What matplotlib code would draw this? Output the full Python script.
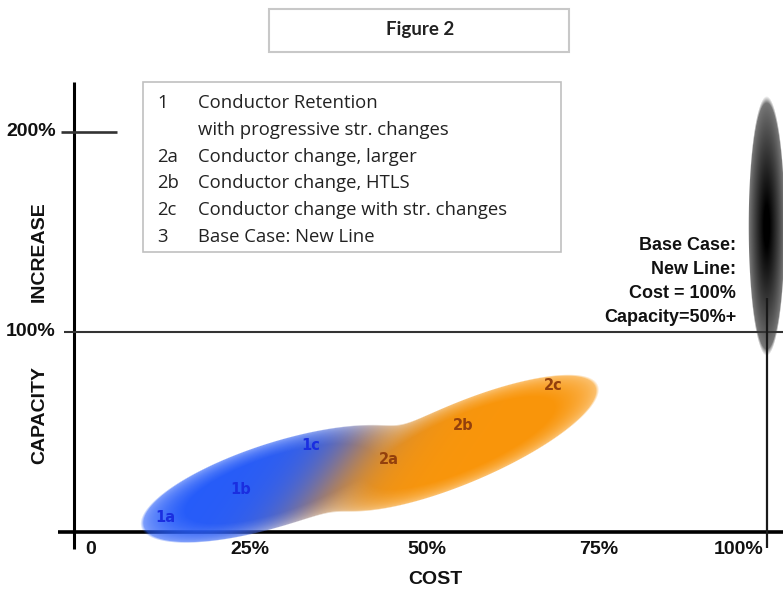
import numpy as np
import matplotlib
matplotlib.use("Agg")
import matplotlib.pyplot as plt
from matplotlib.patches import Rectangle

# cost / capacity figures (percent)
cost_ticks = [0, 25, 50, 75, 100]
cost_tick_labels = ["0", "25%", "50%", "75%", "100%"]
cap_ticks = [100, 200]
cap_tick_labels = ["100%", "200%"]

option_codes = ["1a", "1b", "1c", "2a", "2b", "2c"]
option_group = [0, 0, 0, 1, 1, 1]
option_cost = [13.2, 24.1, 34.2, 45.5, 56.2, 69.2]
option_capacity = [7.5, 21.5, 43.0, 36.0, 53.0, 73.5]

# extent of each option family along its cost/capacity trend
group_cost_low = [9.7, 36.5]
group_cost_high = [49.3, 75.7]
group_cap_low = [2.2, 15.5]
group_cap_high = [46.0, 73.5]

base_cost = 100
base_cap_low = 88
base_cap_high = 218
base_text = ["Base Case:", "New Line:", "Cost = 100%", "Capacity=50%+"]

legend_codes = ["1", "", "2a", "2b", "2c", "3"]
legend_text = ["Conductor Retention", "with progressive str. changes",
               "Conductor change, larger", "Conductor change, HTLS",
               "Conductor change with str. changes", "Base Case: New Line"]

W, H = 783, 594
fig = plt.figure(figsize=(W / 100, H / 100), dpi=100)
ax = fig.add_axes([0, 0, 1, 1])
xlim = (-10.635, 102.35)
ylim = (-31.0, 266.0)
ax.set_xlim(*xlim)
ax.set_ylim(*ylim)
ax.axis("off")

bold_sans = ["Liberation Sans", "DejaVu Sans"]
body = ["Open Sans", "DejaVu Sans"]

# pixel grid (display coords) for the shaded blobs
px = np.arange(W) + 0.5
py = H - (np.arange(H) + 0.5)
PX, PY = np.meshgrid(px, py)


def ellipse_radius(p0, p1, half_w):
    c = (p0 + p1) / 2
    d = (p1 - p0) / np.linalg.norm(p1 - p0)
    n = np.array([-d[1], d[0]])
    a = np.linalg.norm(p1 - p0) / 2
    dx, dy = PX - c[0], PY - c[1]
    u = (dx * d[0] + dy * d[1]) / a
    v = (dx * n[0] + dy * n[1]) / half_w
    return np.sqrt(u ** 2 + v ** 2)


T = ax.transData
blue = np.array([38, 92, 250]) / 255
orange = np.array([250, 150, 10]) / 255

radii = []
for g, hw in zip(range(2), [42, 40]):
    p0 = T.transform((group_cost_low[g], group_cap_low[g]))
    p1 = T.transform((group_cost_high[g], group_cap_high[g]))
    radii.append(ellipse_radius(p0, p1, hw))

# smooth union of the two families so the waist fills in
k = 0.10
r = -k * np.log(np.exp(-radii[0] / k) + np.exp(-radii[1] / k))
edge = np.clip((1 - r) * 40, 0, 1)
alpha = np.clip(0.48 + 0.75 * np.clip(1 - r ** 2, 0, 1) ** 0.6, 0, 1) * edge

# blend blue -> orange between the last option of group 1 and the first of group 2,
# along a direction tipped downwards so the seam leans forward
pts = T.transform(np.column_stack([option_cost, option_capacity]))
mid = (pts[2] + pts[3]) / 2
ang = np.deg2rad(-35)
proj = (PX - mid[0]) * np.cos(ang) + (PY - mid[1]) * np.sin(ang)
t = 1 / (1 + np.exp(-proj / 18.0))
rgba = np.zeros((H, W, 4))
for i in range(3):
    rgba[..., i] = (1 - t) * blue[i] + t * orange[i]
rgba[..., 3] = alpha
ax.imshow(rgba, extent=(*xlim, *ylim), origin="upper", aspect="auto",
          interpolation="nearest", zorder=3)

# base case (new line) blob
b0 = T.transform((base_cost, base_cap_low))
b1 = T.transform((base_cost, base_cap_high))
rb = ellipse_radius(b0, b1, 18.5)
base = np.zeros((H, W, 4))
base[..., 3] = np.where(rb < 1, np.clip(0.48 + 0.6 * (1 - rb) ** 0.8, 0, 1), 0) * np.clip((1 - rb) * 18.5, 0, 1)
ax.imshow(base, extent=(*xlim, *ylim), origin="upper", aspect="auto",
          interpolation="nearest", zorder=2)
ax.set_xlim(*xlim)
ax.set_ylim(*ylim)

# axes and reference lines
ax.plot([-2.3, xlim[1]], [0, 0], color="black", lw=2.6, zorder=2, solid_capstyle="butt")
ax.plot([0, 0], [-8.5, 225], color="black", lw=2.2, zorder=4, solid_capstyle="butt")
ax.plot([-1.85, 6.25], [cap_ticks[1]] * 2, color="#333333", lw=1.9, zorder=4, solid_capstyle="butt")
ax.plot([-1.4, xlim[1]], [cap_ticks[0]] * 2, color="#333333", lw=1.5, zorder=4, solid_capstyle="butt")
ax.plot([base_cost] * 2, [-8, 117], color="#1a1a1a", lw=1.6, zorder=4, solid_capstyle="butt")

# tick labels
label_shift = [2.4, 0.45, 1.0, 0.7, -4.1]
for v, s, dx in zip(cost_ticks, cost_tick_labels, label_shift):
    ax.text(v + dx, -8.5, s, ha="center", va="center", fontsize=14,
            fontweight="bold", family=bold_sans, color="#111111")
for v, s in zip(cap_ticks, cap_tick_labels):
    ax.text(-2.6, v + 0.5, s, ha="right", va="center", fontsize=14,
            fontweight="bold", family=bold_sans, color="#111111")

ax.text(cost_ticks[2] + 2.2, -24, "COST", ha="center", va="center", fontsize=14,
        fontweight="bold", family=bold_sans, color="#111111")
ax.text(-4.9, 140, "INCREASE", ha="center", va="center", rotation=90,
        fontsize=14, fontweight="bold", family=bold_sans, color="#111111")
ax.text(-4.9, 58.5, "CAPACITY", ha="center", va="center", rotation=90,
        fontsize=14, fontweight="bold", family=bold_sans, color="#111111")

# option labels inside the blobs
label_colors = ["#1a2ee0", "#93400c"]
for code, g, c, y in zip(option_codes, option_group, option_cost, option_capacity):
    ax.text(c, y, code, ha="center", va="center", fontsize=10.5,
            fontweight="bold", color=label_colors[g], zorder=5)

# base case note
for i, s in enumerate(base_text):
    ax.text(95.6, 143.5 - i * 12, s, ha="right", va="center", fontsize=13,
            fontweight="bold", family=bold_sans, color="#111111", zorder=5)

# title box
fig.patches.append(Rectangle((269 / W, 1 - 52 / H), 300 / W, 43 / H,
                             transform=fig.transFigure, fill=False,
                             edgecolor="#c8c8c8", lw=1.5))
fig.text(420 / W, 1 - 30 / H, "Figure 2", ha="center", va="center",
         fontsize=13.5, fontweight="bold", family=["Lato", "DejaVu Sans"], color="#222222")

# legend box
fig.patches.append(Rectangle((143 / W, 1 - 252 / H), 418 / W, 170 / H,
                             transform=fig.transFigure, fill=False,
                             edgecolor="#c0c0c0", lw=1.2))
for i, (c, s) in enumerate(zip(legend_codes, legend_text)):
    y = 1 - (103 + i * 26.8) / H
    fig.text(157 / W, y, c, ha="left", va="center", fontsize=13.3,
             family=body, color="#222222")
    fig.text(198 / W, y, s, ha="left", va="center", fontsize=13.3,
             family=body, color="#222222")

fig.savefig("out.png", dpi=100)
